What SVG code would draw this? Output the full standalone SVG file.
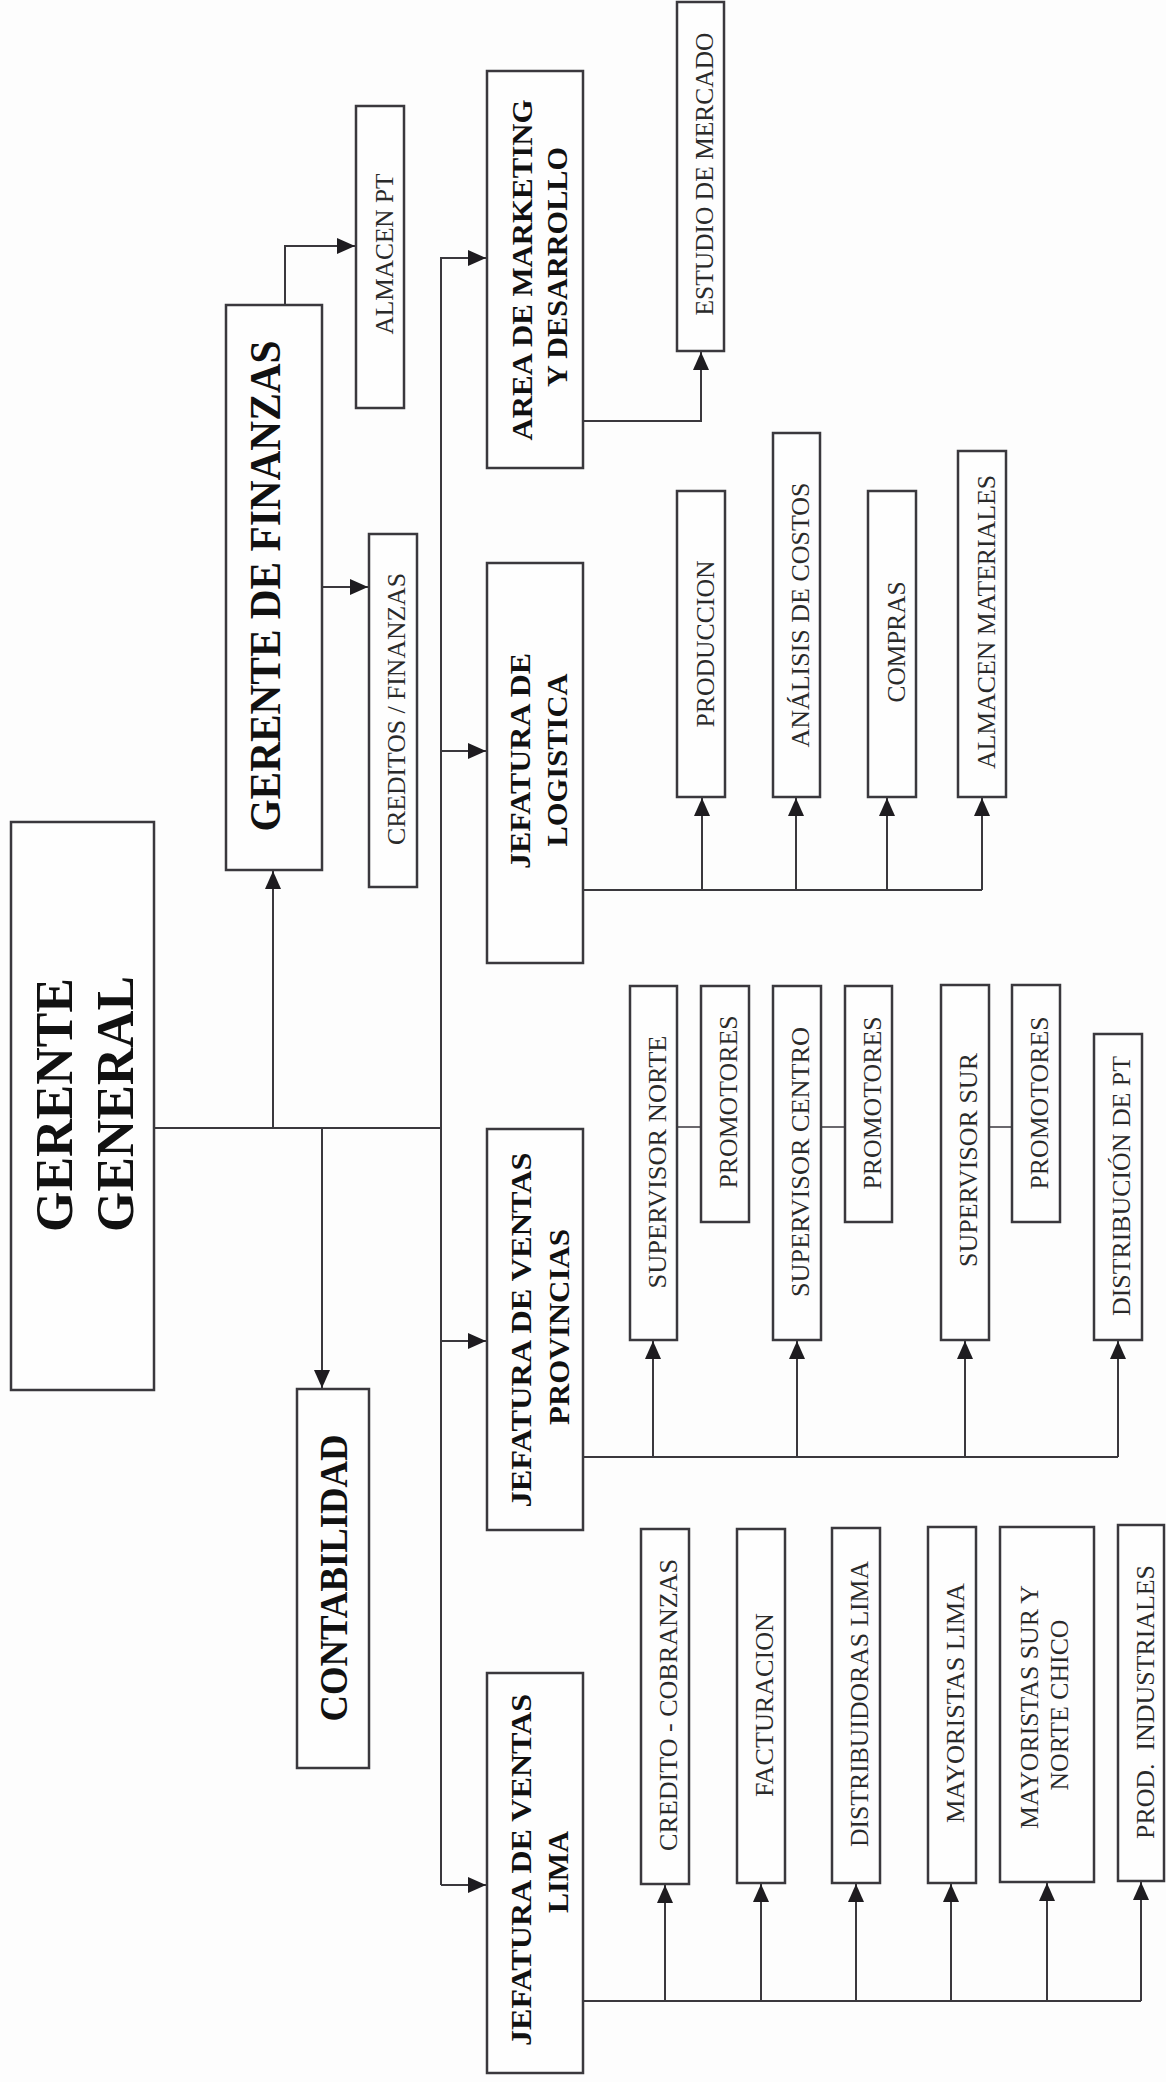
<svg xmlns="http://www.w3.org/2000/svg" width="1166" height="2082" viewBox="0 0 1166 2082">
<style>
.bg{fill:#fdfdfd}
.box{fill:#fefefe;stroke:#3a383d;stroke-width:2.5}
.ln{fill:none;stroke:#3a383d;stroke-width:2}
.lnl{fill:none;stroke:#6a686d;stroke-width:2}
.b{font-family:"Liberation Serif","Times New Roman",serif;font-weight:bold;fill:#111;text-anchor:middle}
.n{font-family:"Liberation Serif","Times New Roman",serif;font-size:25.5px;fill:#2a2a2a;text-anchor:middle}
</style>
<defs>
<marker id="ah" markerUnits="userSpaceOnUse" markerWidth="18" markerHeight="18" viewBox="0 0 18 18" refX="18" refY="9" orient="auto">
<path d="M0,1 L18,9 L0,17 z" fill="#1e1c20"/>
</marker>
</defs>
<rect class="bg" x="0" y="0" width="1166" height="2082"/>

<g id="connectors">
<line class="ln" x1="154" y1="1128" x2="441" y2="1128"/>
<line class="ln" x1="273" y1="1128" x2="273" y2="871" marker-end="url(#ah)"/>
<line class="ln" x1="322" y1="1128" x2="322" y2="1388" marker-end="url(#ah)"/>
<path class="ln" d="M487,258 H441 V1885"/>
<line class="ln" x1="441" y1="258" x2="486" y2="258" marker-end="url(#ah)"/>
<line class="ln" x1="441" y1="751" x2="486" y2="751" marker-end="url(#ah)"/>
<line class="ln" x1="441" y1="1341" x2="486" y2="1341" marker-end="url(#ah)"/>
<line class="ln" x1="441" y1="1885" x2="486" y2="1885" marker-end="url(#ah)"/>
<line class="ln" x1="322" y1="587" x2="368" y2="587" marker-end="url(#ah)"/>
<path class="ln" d="M285,305 V246 H355" marker-end="url(#ah)"/>
<path class="ln" d="M583,421 H701 V352" marker-end="url(#ah)"/>
<line class="ln" x1="583" y1="890" x2="982" y2="890"/>
<line class="ln" x1="702" y1="890" x2="702" y2="798" marker-end="url(#ah)"/>
<line class="ln" x1="796" y1="890" x2="796" y2="798" marker-end="url(#ah)"/>
<line class="ln" x1="887" y1="890" x2="887" y2="798" marker-end="url(#ah)"/>
<line class="ln" x1="982" y1="890" x2="982" y2="798" marker-end="url(#ah)"/>
<line class="ln" x1="583" y1="1457" x2="1118" y2="1457"/>
<line class="ln" x1="653" y1="1457" x2="653" y2="1341" marker-end="url(#ah)"/>
<line class="ln" x1="797" y1="1457" x2="797" y2="1341" marker-end="url(#ah)"/>
<line class="ln" x1="965" y1="1457" x2="965" y2="1341" marker-end="url(#ah)"/>
<line class="ln" x1="1118" y1="1457" x2="1118" y2="1341" marker-end="url(#ah)"/>
<line class="lnl" x1="677" y1="1127" x2="701" y2="1127"/>
<line class="lnl" x1="821" y1="1127" x2="845" y2="1127"/>
<line class="lnl" x1="989" y1="1127" x2="1012" y2="1127"/>
<line class="ln" x1="583" y1="2001" x2="1141" y2="2001"/>
<line class="ln" x1="665" y1="2001" x2="665" y2="1885" marker-end="url(#ah)"/>
<line class="ln" x1="761" y1="2001" x2="761" y2="1884" marker-end="url(#ah)"/>
<line class="ln" x1="856" y1="2001" x2="856" y2="1884" marker-end="url(#ah)"/>
<line class="ln" x1="951" y1="2001" x2="951" y2="1884" marker-end="url(#ah)"/>
<line class="ln" x1="1047" y1="2001" x2="1047" y2="1883" marker-end="url(#ah)"/>
<line class="ln" x1="1141" y1="2001" x2="1141" y2="1882" marker-end="url(#ah)"/>
</g>

<g id="gerente-general">
<rect class="box" x="11" y="822" width="143" height="568"/>
<text class="b" font-size="53" transform="translate(72,1105) rotate(-90)" textLength="254" lengthAdjust="spacingAndGlyphs">GERENTE</text>
<text class="b" font-size="53" transform="translate(133,1104) rotate(-90)" textLength="256" lengthAdjust="spacingAndGlyphs">GENERAL</text>
</g>

<g id="gerente-finanzas">
<rect class="box" x="226" y="305" width="96" height="565"/>
<text class="b" font-size="44" transform="translate(280,586) rotate(-90)" textLength="491" lengthAdjust="spacingAndGlyphs">GERENTE DE FINANZAS</text>
</g>

<g id="contabilidad">
<rect class="box" x="297" y="1389" width="72" height="379"/>
<text class="b" font-size="39" transform="translate(347,1578) rotate(-90)" textLength="287" lengthAdjust="spacingAndGlyphs">CONTABILIDAD</text>
</g>

<g id="creditos-finanzas">
<rect class="box" x="369" y="534" width="48" height="353"/>
<text class="n" transform="translate(405,709) rotate(-90)" textLength="272" lengthAdjust="spacingAndGlyphs">CREDITOS / FINANZAS</text>
</g>

<g id="almacen-pt">
<rect class="box" x="356" y="106" width="48" height="302"/>
<text class="n" transform="translate(393,254) rotate(-90)" textLength="161" lengthAdjust="spacingAndGlyphs">ALMACEN PT</text>
</g>

<g id="area-marketing">
<rect class="box" x="487" y="71" width="96" height="397"/>
<text class="b" font-size="30" transform="translate(532,270) rotate(-90)" textLength="341" lengthAdjust="spacingAndGlyphs">AREA DE MARKETING</text>
<text class="b" font-size="30" transform="translate(567,267) rotate(-90)" textLength="240" lengthAdjust="spacingAndGlyphs">Y DESARROLLO</text>
</g>

<g id="estudio-mercado">
<rect class="box" x="677" y="2" width="47" height="349"/>
<text class="n" transform="translate(713,174) rotate(-90)" textLength="283" lengthAdjust="spacingAndGlyphs">ESTUDIO DE MERCADO</text>
</g>

<g id="jefatura-logistica">
<rect class="box" x="487" y="563" width="96" height="400"/>
<text class="b" font-size="30" transform="translate(530,761) rotate(-90)" textLength="216" lengthAdjust="spacingAndGlyphs">JEFATURA DE</text>
<text class="b" font-size="30" transform="translate(567,760) rotate(-90)" textLength="173" lengthAdjust="spacingAndGlyphs">LOGISTICA</text>
</g>

<g id="produccion">
<rect class="box" x="677" y="491" width="48" height="306"/>
<text class="n" transform="translate(714,644) rotate(-90)" textLength="167" lengthAdjust="spacingAndGlyphs">PRODUCCION</text>
</g>
<g id="analisis-costos">
<rect class="box" x="773" y="433" width="47" height="364"/>
<text class="n" transform="translate(809,615) rotate(-90)" textLength="265" lengthAdjust="spacingAndGlyphs">ANÁLISIS DE COSTOS</text>
</g>
<g id="compras">
<rect class="box" x="868" y="491" width="48" height="306"/>
<text class="n" transform="translate(905,642) rotate(-90)" textLength="121" lengthAdjust="spacingAndGlyphs">COMPRAS</text>
</g>
<g id="almacen-materiales">
<rect class="box" x="958" y="451" width="48" height="346"/>
<text class="n" transform="translate(995,622) rotate(-90)" textLength="294" lengthAdjust="spacingAndGlyphs">ALMACEN MATERIALES</text>
</g>

<g id="jefatura-provincias">
<rect class="box" x="487" y="1129" width="96" height="401"/>
<text class="b" font-size="30" transform="translate(531,1330) rotate(-90)" textLength="355" lengthAdjust="spacingAndGlyphs">JEFATURA DE VENTAS</text>
<text class="b" font-size="30" transform="translate(569,1327) rotate(-90)" textLength="196" lengthAdjust="spacingAndGlyphs">PROVINCIAS</text>
</g>

<g id="supervisor-norte">
<rect class="box" x="630" y="986" width="47" height="354"/>
<text class="n" transform="translate(666,1162) rotate(-90)" textLength="253" lengthAdjust="spacingAndGlyphs">SUPERVISOR NORTE</text>
</g>
<g id="promotores-1">
<rect class="box" x="701" y="986" width="48" height="236"/>
<text class="n" transform="translate(737,1102) rotate(-90)" textLength="173" lengthAdjust="spacingAndGlyphs">PROMOTORES</text>
</g>
<g id="supervisor-centro">
<rect class="box" x="773" y="986" width="48" height="354"/>
<text class="n" transform="translate(809,1162) rotate(-90)" textLength="270" lengthAdjust="spacingAndGlyphs">SUPERVISOR CENTRO</text>
</g>
<g id="promotores-2">
<rect class="box" x="845" y="986" width="47" height="236"/>
<text class="n" transform="translate(881,1103) rotate(-90)" textLength="173" lengthAdjust="spacingAndGlyphs">PROMOTORES</text>
</g>
<g id="supervisor-sur">
<rect class="box" x="941" y="985" width="48" height="355"/>
<text class="n" transform="translate(977,1160) rotate(-90)" textLength="214" lengthAdjust="spacingAndGlyphs">SUPERVISOR SUR</text>
</g>
<g id="promotores-3">
<rect class="box" x="1012" y="985" width="48" height="237"/>
<text class="n" transform="translate(1048,1103) rotate(-90)" textLength="173" lengthAdjust="spacingAndGlyphs">PROMOTORES</text>
</g>
<g id="distribucion-pt">
<rect class="box" x="1094" y="1034" width="48" height="306"/>
<text class="n" transform="translate(1130,1186) rotate(-90)" textLength="260" lengthAdjust="spacingAndGlyphs">DISTRIBUCIÓN DE PT</text>
</g>

<g id="jefatura-lima">
<rect class="box" x="487" y="1673" width="96" height="400"/>
<text class="b" font-size="30" transform="translate(531,1870) rotate(-90)" textLength="352" lengthAdjust="spacingAndGlyphs">JEFATURA DE VENTAS</text>
<text class="b" font-size="30" transform="translate(568,1872) rotate(-90)" textLength="82" lengthAdjust="spacingAndGlyphs">LIMA</text>
</g>

<g id="credito-cobranzas">
<rect class="box" x="641" y="1529" width="48" height="355"/>
<text class="n" transform="translate(677,1705) rotate(-90)" textLength="292" lengthAdjust="spacingAndGlyphs">CREDITO - COBRANZAS</text>
</g>
<g id="facturacion">
<rect class="box" x="737" y="1529" width="48" height="354"/>
<text class="n" transform="translate(773,1705) rotate(-90)" textLength="184" lengthAdjust="spacingAndGlyphs">FACTURACION</text>
</g>
<g id="distribuidoras-lima">
<rect class="box" x="832" y="1528" width="48" height="355"/>
<text class="n" transform="translate(868,1704) rotate(-90)" textLength="286" lengthAdjust="spacingAndGlyphs">DISTRIBUIDORAS LIMA</text>
</g>
<g id="mayoristas-lima">
<rect class="box" x="928" y="1527" width="48" height="356"/>
<text class="n" transform="translate(964,1703) rotate(-90)" textLength="240" lengthAdjust="spacingAndGlyphs">MAYORISTAS LIMA</text>
</g>
<g id="mayoristas-sur">
<rect class="box" x="1000" y="1527" width="94" height="355"/>
<text class="n" transform="translate(1038,1707) rotate(-90)" textLength="244" lengthAdjust="spacingAndGlyphs">MAYORISTAS SUR Y</text>
<text class="n" transform="translate(1068,1705) rotate(-90)" textLength="171" lengthAdjust="spacingAndGlyphs">NORTE CHICO</text>
</g>
<g id="prod-industriales">
<rect class="box" x="1118" y="1525" width="46" height="356"/>
<text class="n" transform="translate(1154,1702) rotate(-90)" textLength="274" lengthAdjust="spacingAndGlyphs" xml:space="preserve">PROD.  INDUSTRIALES</text>
</g>
</svg>
